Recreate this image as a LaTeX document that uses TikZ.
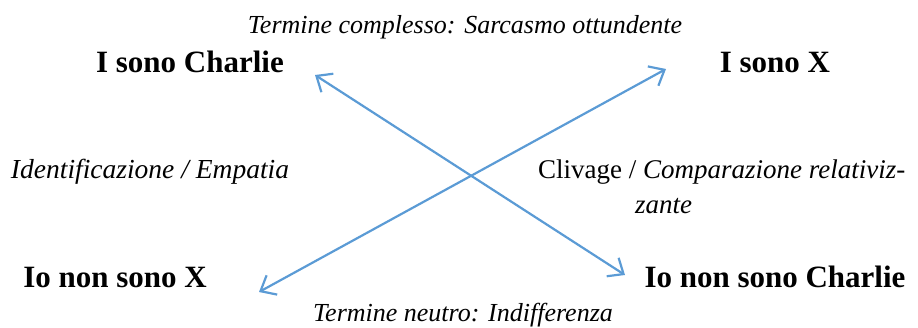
\documentclass[tikz,border=0pt]{standalone}
\usepackage{fontspec}
\setmainfont{Liberation Serif}
\usetikzlibrary{arrows.meta}
\definecolor{arrowblue}{RGB}{91,155,213}
\begin{document}
\begin{tikzpicture}[x=1pt,y=-1pt,
  term/.style={anchor=base,inner sep=0pt,font=\fontsize{31}{37}\selectfont\bfseries},
  lbl/.style={anchor=base,inner sep=0pt,font=\fontsize{27}{33}\selectfont},
  ttl/.style={anchor=base,inner sep=0pt,font=\fontsize{26}{31}\selectfont\itshape},
  link/.style={draw=arrowblue,line width=2.2pt,{Straight Barb[length=13pt,width=22pt]}-{Straight Barb[length=13pt,width=22pt]}}]
\useasboundingbox (0,0) rectangle (918,327);
\node[ttl] (top) at (465,33) {Termine complesso: Sarcasmo ottundente};
\node[term] (ic) at (190,72) {I sono Charlie};
\node[term] (ix) at (775,72) {I sono X};
\node[lbl,font=\fontsize{27.5}{33}\selectfont] (ide) at (150,178) {\itshape Identificazione / Empatia};
\node[lbl,anchor=base west] (clv) at (538,178) {Clivage / \itshape Comparazione relativiz-};
\node[lbl,anchor=base west] (clv2) at (635,213) {\itshape zante};
\node[term] (nx) at (115,287) {Io non sono X};
\node[term] (nc) at (775,287) {Io non sono Charlie};
\node[ttl] (bot) at (463,321) {Termine neutro: Indifferenza};
\coordinate (a1) at (315,75);
\coordinate (a2) at (625,275);
\coordinate (b1) at (666,69);
\coordinate (b2) at (259,292);
\draw[link] (a1) -- (a2);
\draw[link] (b2) -- (b1);
\end{tikzpicture}
\end{document}
